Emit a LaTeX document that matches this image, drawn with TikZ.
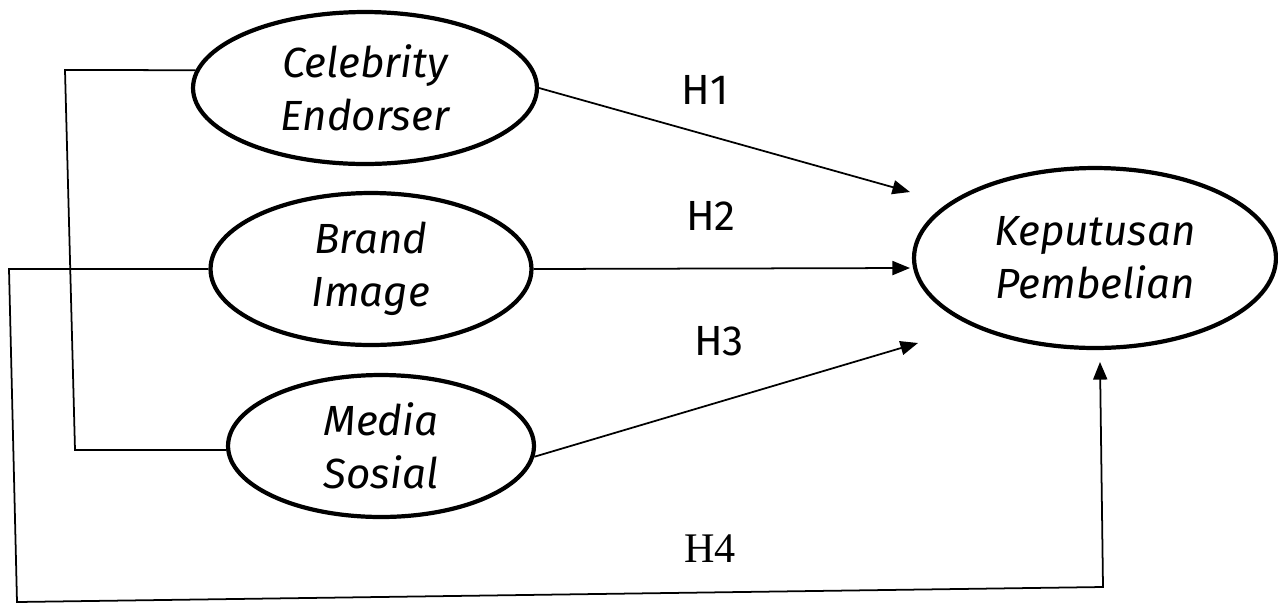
\documentclass[tikz,border=0pt]{standalone}
\usepackage{fontspec}
\newfontfamily\varfont{Fira Sans}
\newfontfamily\hfont{Liberation Serif}
\usetikzlibrary{shapes.geometric,arrows.meta}
\tikzset{
  var/.style={ellipse,draw,line width=2.4pt,inner sep=0pt,align=center,
    font=\varfont\itshape\fontsize{24}{30}\selectfont},
  hyp/.style={font=\varfont\fontsize{24}{28}\selectfont,inner sep=0pt},
  link/.style={line width=1pt},
  arr/.style={line width=1pt,-{Triangle[length=10pt,width=8pt]}}
}
\begin{document}
\begin{tikzpicture}[x=0.02cm,y=-0.02cm]
	\useasboundingbox (0,0) rectangle (1278,603);
	\node[var,minimum width=6.88cm,minimum height=3.04cm] (CE) at (365,88) {Celebrity\\Endorser};
	\node[var,minimum width=6.42cm,minimum height=3.04cm] (BI) at (371,269) {Brand\\Image};
	\node[var,minimum width=6.12cm,minimum height=2.84cm] (MS) at (381,446) {Media\\Sosial};
	\node[var,minimum width=7.24cm,minimum height=3.6cm] (KP) at (1095,258) {Keputusan\\Pembelian};

	\node[hyp] (H1) at (705,90) {H1};
	\node[hyp] (H2) at (711,216) {H2};
	\node[hyp] (H3) at (719,341) {H3};
	\node[hyp,font=\hfont\fontsize{24}{28}\selectfont] (H4) at (710,549) {H4};

	\coordinate (T1) at (910,192);
	\coordinate (T2) at (910,268);
	\coordinate (T3) at (918,343);
	\coordinate (T4) at (1100,362);
	\coordinate (C1) at (65,70);
	\coordinate (C2) at (75,450);
	\coordinate (B1) at (9,269);
	\coordinate (B2) at (17,602);
	\coordinate (B3) at (1103,587);

	\draw[arr] (CE.east) -- (T1);
	\draw[arr] (BI.east) -- (T2);
	\draw[arr] (MS.-4) -- (T3);
	\draw[link] (CE.174) -- (C1) -- (C2) -- (MS.west |- C2);
	\draw[arr] (BI.west) -- (B1) -- (B2) -- (B3) -- (T4);
\end{tikzpicture}
\end{document}
